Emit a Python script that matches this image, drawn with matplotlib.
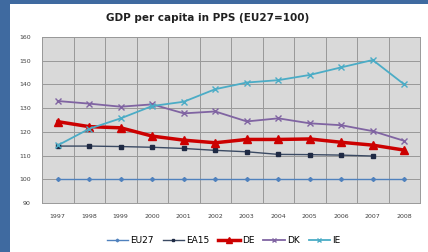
import numpy as np
import matplotlib.pyplot as plt
from matplotlib.patches import Rectangle

# data
years = [1997, 1998, 1999, 2000, 2001, 2002, 2003, 2004, 2005, 2006, 2007, 2008]
eu27 = [100] * 12
ea15 = [114.0, 114.0, 113.8, 113.5, 113.0, 112.2, 111.6, 110.5, 110.4, 110.2, 109.8]
de = [124.3, 122.2, 121.7, 118.2, 116.5, 115.4, 116.8, 116.8, 117.0, 115.6, 114.4, 112.3]
dk = [133.0, 131.9, 130.6, 131.6, 127.8, 128.6, 124.4, 125.7, 123.6, 122.8, 120.3, 116.2]
ie = [114.3, 121.3, 125.7, 130.9, 132.7, 138.0, 140.8, 141.8, 144.0, 147.2, 150.3, 140.0]

fig = plt.figure(figsize=(4.28, 2.52), dpi=100)
fig.patch.set_facecolor("#3f6aa0")
# white slide panel
fig.patches.append(Rectangle((10 / 428, 0), 1, 1 - 4 / 252, transform=fig.transFigure,
                             facecolor="white", edgecolor="none", zorder=-5))

ax = fig.add_axes([42 / 428, 1 - 203 / 252, 378 / 428, 166 / 252])
ax.set_facecolor("#d9d9d9")

x = np.arange(len(years))
ax.plot(x, eu27, color="#4f81bd", lw=1, marker="D", ms=2, label="EU27")
ax.plot(x[:len(ea15)], ea15, color="#3b4a63", lw=1, marker="s", ms=3,
        mfc="#1f2a44", mec="#1f2a44", label="EA15")
ax.plot(x, de, color="#cc0000", lw=2.5, marker="^", ms=6, label="DE")
ax.plot(x, dk, color="#8064a2", lw=1.3, marker="x", ms=5, label="DK")
ax.plot(x, ie, color="#4bacc6", lw=1.3, marker="x", ms=5, label="IE")

ax.set_xlim(-0.5, len(years) - 0.5)
ax.set_ylim(90, 160)
ax.set_yticks(range(90, 161, 10))
ax.set_xticks(x)
ax.set_xticklabels(years)
# vertical grid between categories
for b in np.arange(-0.5, len(years), 1):
    ax.axvline(b, color="#999999", lw=0.7, zorder=0)
for yv in range(90, 161, 10):
    ax.axhline(yv, color="#999999", lw=0.7, zorder=0)
for s in ax.spines.values():
    s.set_color("#999999")
    s.set_linewidth(0.7)
ax.tick_params(length=0, labelsize=4.5, colors="#404040", pad=8)

fig.text(0.485, 1 - 18 / 252, "GDP per capita in PPS (EU27=100)", ha="center", va="center",
         fontsize=7.5, fontweight="bold", color="#202020")

ax.legend(loc="center", bbox_to_anchor=(0.48, -0.224), ncol=5, frameon=False,
          fontsize=6.5, handlelength=2.4, columnspacing=1.0, handletextpad=0.2,
          markerscale=0.7)

plt.savefig("out.png", dpi=100, facecolor=fig.get_facecolor())
